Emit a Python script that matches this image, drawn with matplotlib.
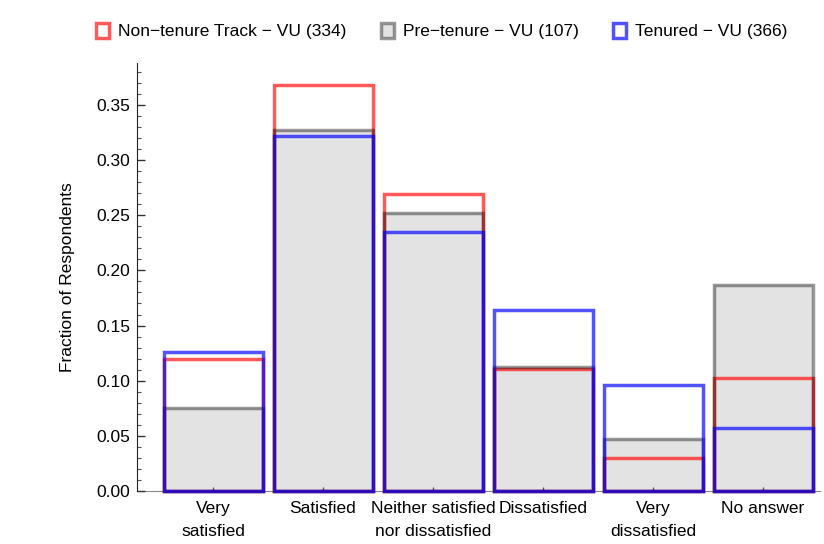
import numpy as np
import matplotlib
matplotlib.use('Agg')
import matplotlib.pyplot as plt
from matplotlib.patches import Patch
from matplotlib.ticker import MultipleLocator

## data (fraction of respondents per answer)
categories = ['Very\nsatisfied', 'Satisfied', 'Neither satisfied\nnor dissatisfied',
              'Dissatisfied', 'Very\ndissatisfied', 'No answer']
non_tenure = [0.120, 0.368, 0.269, 0.111, 0.030, 0.102]
pre_tenure = [0.075, 0.327, 0.252, 0.112, 0.047, 0.187]
tenured = [0.126, 0.322, 0.235, 0.164, 0.096, 0.057]
labels = ['Non\u2212tenure Track \u2212 VU (334)', 'Pre\u2212tenure \u2212 VU (107)',
          'Tenured \u2212 VU (366)']

plt.rcParams['font.family'] = ['Liberation Sans', 'DejaVu Sans']
fs = 12.5

red = (1, 0, 0, 0.65)
gray = (0, 0, 0, 0.4)
blue = (0, 0, 1, 0.68)
fill = (0, 0, 0, 0.11)

fig = plt.figure(figsize=(8.24, 5.44), dpi=100)
ax = fig.add_axes([137/824, 1-491/544, (820-137)/824, (491-63)/544])

x = np.arange(len(categories))
w = 0.9
lw = 2.5
## gray fill at the bottom, then red outline, gray outline, blue outline on top
ax.bar(x, pre_tenure, w, facecolor=fill, edgecolor='none', zorder=1.5)
ax.bar(x, non_tenure, w, facecolor='none', edgecolor=red, linewidth=lw, clip_on=False, zorder=2)
ax.bar(x, pre_tenure, w, facecolor='none', edgecolor=gray, linewidth=lw, clip_on=False, zorder=3)
ax.bar(x, tenured, w, facecolor='none', edgecolor=blue, linewidth=lw, clip_on=False, zorder=4)

ax.set_xlim(-0.691, 5.518)
ax.set_xticks(x)
ax.set_xticklabels(categories, fontsize=fs, linespacing=1.66)
ax.yaxis.set_major_locator(MultipleLocator(0.05))
ax.yaxis.set_minor_locator(MultipleLocator(0.01))
ax.set_ylim(0, 0.388)
ax.set_yticks(np.arange(0, 0.36, 0.05))
ax.set_yticklabels(['%.2f' % v for v in np.arange(0, 0.36, 0.05)], fontsize=fs)
ax.tick_params(axis='y', which='major', direction='in', length=6, width=1, color='#333333', pad=5)
ax.tick_params(axis='y', which='minor', direction='in', length=3, width=0.8, color='#555555')
ax.tick_params(axis='x', which='major', direction='in', length=3, width=1, color='#555555', pad=7)

for s in ['top', 'right']:
    ax.spines[s].set_visible(False)
ax.spines['left'].set_color('#222222')
ax.spines['bottom'].set_color('#888888')
ax.spines['bottom'].set_zorder(1)

ax.set_ylabel('Fraction of Respondents', fontsize=fs)
ax.yaxis.set_label_coords(-0.091, 0.5)

handles = [Patch(facecolor='white', edgecolor=red, linewidth=lw),
           Patch(facecolor='#e3e3e3', edgecolor=gray, linewidth=lw),
           Patch(facecolor='white', edgecolor=blue, linewidth=lw)]
fig.legend(handles, labels, loc='center', bbox_to_anchor=(0.536, 0.943), ncol=3,
           frameon=False, fontsize=fs, handlelength=0.75, handleheight=1.0,
           handletextpad=0.5, columnspacing=2.0)

fig.savefig('out.png', dpi=100)
